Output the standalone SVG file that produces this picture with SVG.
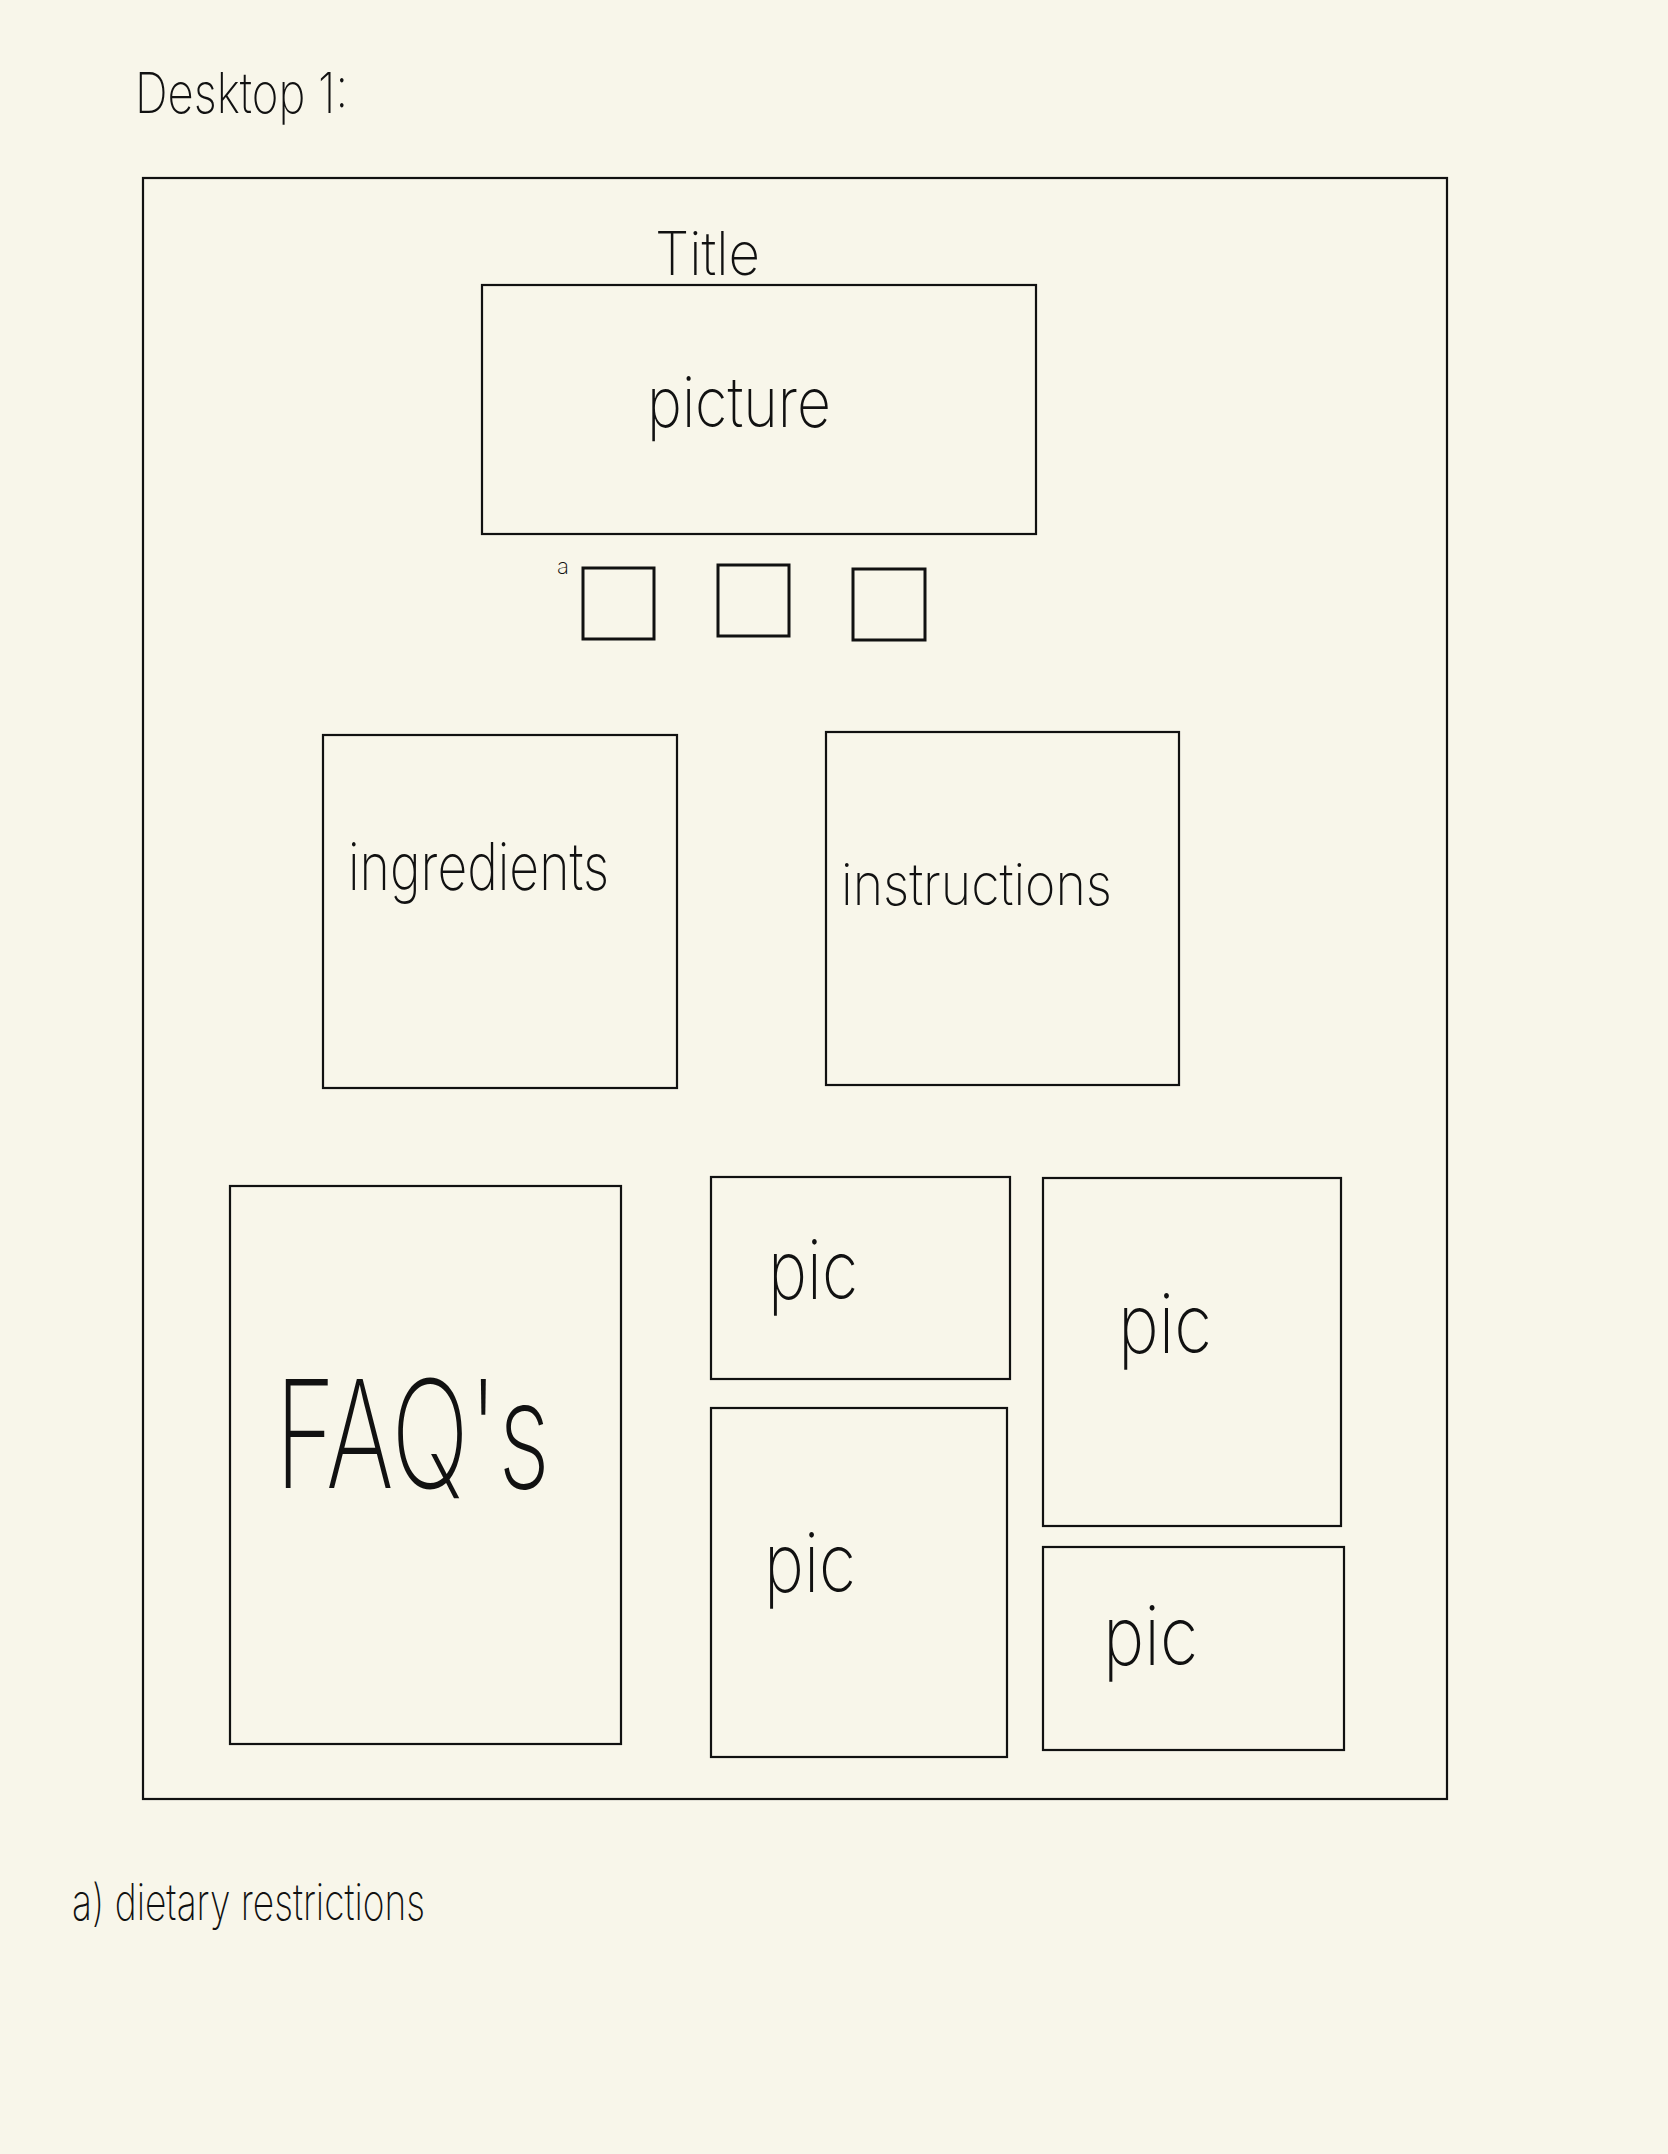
<svg xmlns="http://www.w3.org/2000/svg" width="1668" height="2154" viewBox="0 0 1668 2154">
<style>
.bg{fill:#f8f6ea}
.box{fill:none;stroke:#111;stroke-width:2.2}
.sq{fill:none;stroke:#111;stroke-width:3}
.t{font-family:Inter,"Liberation Sans Narrow","DejaVu Sans Condensed",sans-serif;fill:#111;font-weight:200}
</style>
<rect class="bg" x="0" y="0" width="1668" height="2154"/>
<g id="heading"><text class="t" x="135" y="113" font-size="56" textLength="213" lengthAdjust="spacingAndGlyphs">Desktop 1:</text></g>
<g id="frame"><rect class="box" x="143" y="178" width="1304" height="1621"/></g>
<g id="title"><text class="t" x="655" y="275" font-size="60" textLength="105" lengthAdjust="spacingAndGlyphs">Title</text></g>
<g id="picture"><rect class="box" x="482" y="285" width="554" height="249"/><text class="t" x="647" y="427" font-size="70" textLength="184" lengthAdjust="spacingAndGlyphs">picture</text></g>
<g id="thumb-label"><text class="t" x="557" y="574" font-size="22" textLength="12" lengthAdjust="spacingAndGlyphs" font-weight="600">a</text></g>
<g id="thumb1"><rect class="sq" x="583" y="568" width="71" height="71"/></g>
<g id="thumb2"><rect class="sq" x="718" y="565" width="71" height="71"/></g>
<g id="thumb3"><rect class="sq" x="853" y="569" width="72" height="71"/></g>
<g id="ingredients"><rect class="box" x="323" y="735" width="354" height="353"/><text class="t" x="348" y="890" font-size="66" textLength="261" lengthAdjust="spacingAndGlyphs">ingredients</text></g>
<g id="instructions"><rect class="box" x="826" y="732" width="353" height="353"/><text class="t" x="841" y="905" font-size="58" textLength="271" lengthAdjust="spacingAndGlyphs">instructions</text></g>
<g id="faq"><rect class="box" x="230" y="1186" width="391" height="558"/><text class="t" x="275" y="1488" font-size="150" textLength="275" lengthAdjust="spacingAndGlyphs">FAQ's</text></g>
<g id="pic1"><rect class="box" x="711" y="1177" width="299" height="202"/><text class="t" x="768" y="1299" font-size="82" textLength="90" lengthAdjust="spacingAndGlyphs">pic</text></g>
<g id="pic2"><rect class="box" x="711" y="1408" width="296" height="349"/><text class="t" x="764" y="1592" font-size="82" textLength="92" lengthAdjust="spacingAndGlyphs">pic</text></g>
<g id="pic3"><rect class="box" x="1043" y="1178" width="298" height="348"/><text class="t" x="1118" y="1353" font-size="82" textLength="94" lengthAdjust="spacingAndGlyphs">pic</text></g>
<g id="pic4"><rect class="box" x="1043" y="1547" width="301" height="203"/><text class="t" x="1103" y="1665" font-size="82" textLength="95" lengthAdjust="spacingAndGlyphs">pic</text></g>
<g id="note"><text class="t" x="72" y="1920" font-size="50" textLength="353" lengthAdjust="spacingAndGlyphs" font-weight="400">a) dietary restrictions</text></g>
<g id="connectors"></g>
</svg>
